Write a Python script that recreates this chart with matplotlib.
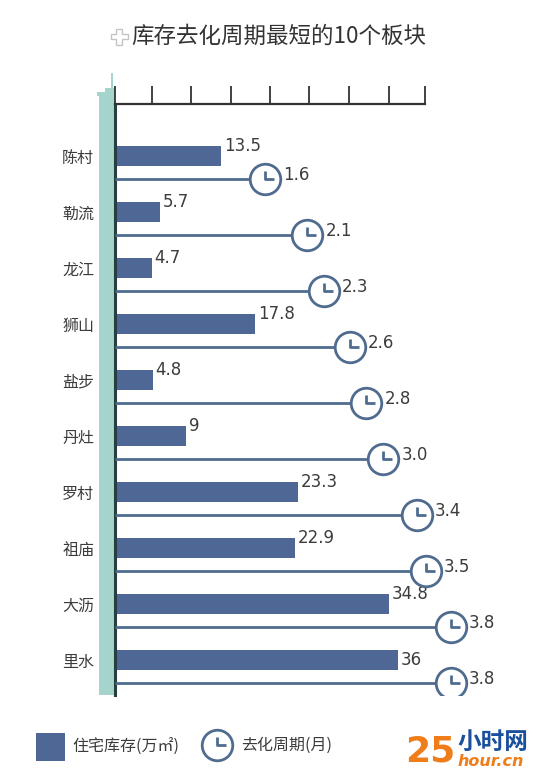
import matplotlib
matplotlib.use('Agg')
import matplotlib.pyplot as plt
from matplotlib.patches import Polygon, Rectangle
from matplotlib.path import Path

plt.rcParams['font.family'] = ['Noto Sans CJK SC', 'DejaVu Sans']

# values
blocks = ['陈村', '勒流', '龙江', '狮山', '盐步', '丹灶', '罗村', '祖庙', '大沥', '里水']
stock = [13.5, 5.7, 4.7, 17.8, 4.8, 9, 23.3, 22.9, 34.8, 36]
months = [1.6, 2.1, 2.3, 2.6, 2.8, 3.0, 3.4, 3.5, 3.8, 3.8]
stock_labels = ['13.5', '5.7', '4.7', '17.8', '4.8', '9', '23.3', '22.9', '34.8', '36']
month_labels = ['1.6', '2.1', '2.3', '2.6', '2.8', '3.0', '3.4', '3.5', '3.8', '3.8']
top_ticks = [0, 4.7, 9.67, 14.75, 19.7, 24.7, 29.8, 34.8, 39.5]

W, H = 540, 777
BAR = '#4e6795'
LINE = '#4f6c8f'
TEAL = '#a4d4cb'
DARK = '#333333'
TXT = '#3c3c3c'

fig = plt.figure(figsize=(W / 100, H / 100), dpi=100, facecolor='white')

# overlay in pixel coordinates for the decoration around the chart
bg = fig.add_axes([0, 0, 1, 1], zorder=0)
bg.set_xlim(0, W)
bg.set_ylim(H, 0)
bg.axis('off')

# axes spans 115..540 px across and 104..695 px down
ax = fig.add_axes([115 / W, (H - 695) / H, (W - 115) / W, (695 - 104) / H], zorder=2)
ax.patch.set_alpha(0)
ax.set_xlim(0, (W - 115) / 7.86)
ax.set_ylim(9.625, -0.929)

rows = list(range(len(blocks)))
line_y = [r + 0.41 for r in rows]

ax.barh(rows, stock, height=0.36, color=BAR, zorder=2)
for r, v, s in zip(rows, stock, stock_labels):
    # the last label sits level with its bar, the others above it
    ax.annotate(s, (v, r), xytext=(2, 0 if s == '36' else 7), textcoords='offset points', va='center',
                fontsize=12, color=TXT, family='DejaVu Sans')

# months on their own horizontal scale
ax2 = ax.twiny()
ax2.patch.set_alpha(0)
ax2.set_xlim(1.6 - (265 - 115) / 84.5, 1.6 + (W - 265) / 84.5)
ax2.axis('off')

# twiny moves the ticks of ax to the bottom, so set them up afterwards
for s in ['right', 'bottom']:
    ax.spines[s].set_visible(False)
ax.spines['top'].set_visible(True)
ax.spines['top'].set_linewidth(1.6)
ax.spines['top'].set_color(DARK)
ax.spines['top'].set_bounds(0, 39.5)
ax.spines['left'].set_linewidth(2.2)
ax.spines['left'].set_color('#27403f')
ax.xaxis.tick_top()
ax.set_xticks(top_ticks)
ax.set_xticklabels([])
ax.tick_params(axis='x', length=13, width=1.3, color=DARK)
ax.set_yticks(rows)
ax.set_yticklabels(blocks, fontsize=11.5, color=TXT)
ax.tick_params(axis='y', length=0, pad=15)

hands = Path([(0, 0.9), (0, 0), (1, 0)], [Path.MOVETO, Path.LINETO, Path.LINETO])


def clock(axis, x, y, ms=22):
    axis.plot([x], [y], marker='o', ms=ms, mfc='white', mec=LINE, mew=2, zorder=4)
    axis.plot([x], [y], marker=hands, ms=ms * 0.6, mfc='none', mec=LINE, mew=2, zorder=5)


for y, m, s in zip(line_y, months, month_labels):
    ax2.plot([ax2.get_xlim()[0], m], [y, y], color=LINE, lw=2, zorder=3, solid_capstyle='butt')
    clock(ax2, m, y)
    ax2.annotate(s, (m, y), xytext=(13, 3), textcoords='offset points', va='center',
                 fontsize=12, color=TXT, family='DejaVu Sans', annotation_clip=False)

# teal column with stepped top
bg.add_patch(Polygon([(99, 695), (99, 96), (97, 96), (97, 92), (105, 92), (105, 88), (111, 88),
                      (111, 73), (113, 73), (113, 88), (115, 88), (115, 695)],
                     closed=True, fc=TEAL, ec='none'))

# title with plus icon
bg.add_patch(Polygon([(116, 29), (122, 29), (122, 34), (128, 34), (128, 39), (122, 39), (122, 45),
                      (116, 45), (116, 39), (111, 39), (111, 34), (116, 34)],
                     closed=True, fc='white', ec='#c4c4c4', lw=1))
bg.text(131, 36, '库存去化周期最短的10个板块', fontsize=16.2, color=DARK, va='center', ha='left')

# legend
bg.add_patch(Rectangle((36, 733), 29, 28, fc=BAR, ec='none'))
bg.text(72, 747, '住宅库存(万㎡)', fontsize=11.5, color=TXT, va='center')
clock(bg, 217, 745, ms=22)
bg.text(241, 745, '去化周期(月)', fontsize=11.5, color=TXT, va='center')

# site logo
bg.text(405, 751, '25', fontsize=26, fontweight='bold', color='#ef7d1a', va='center',
        family='DejaVu Sans')
bg.text(457, 742, '小时网', fontsize=17, fontweight='bold', color='#1a4f9c', va='center')
bg.text(457, 761, 'hour.cn', fontsize=11.5, fontweight='bold', style='italic', color='#ef7d1a',
        va='center', family='DejaVu Sans')

fig.savefig('out.png', dpi=100)
